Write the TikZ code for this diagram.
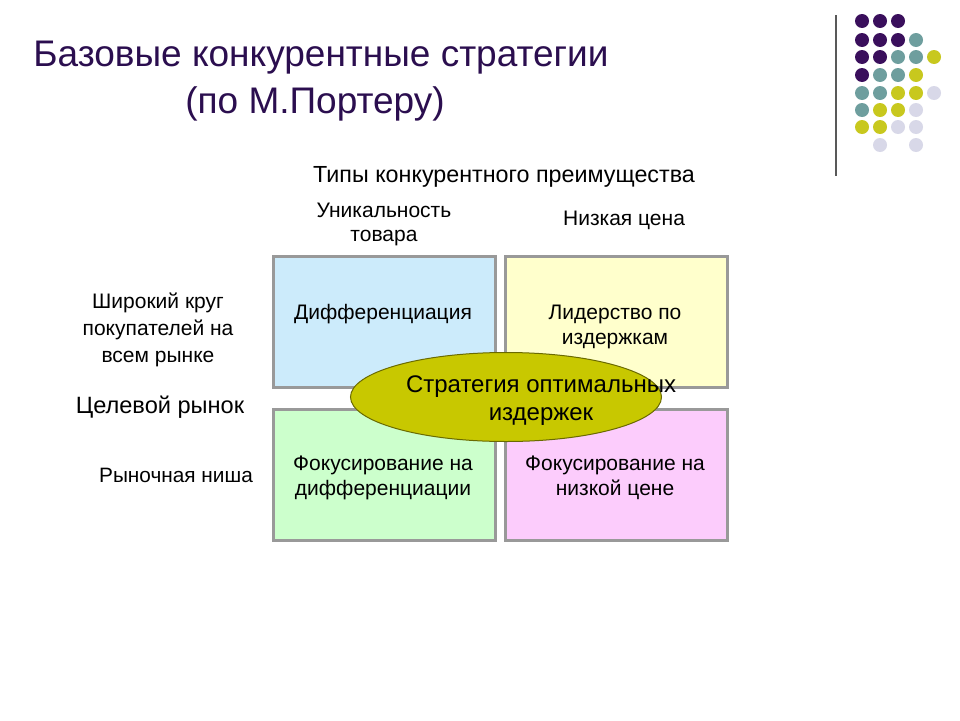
\documentclass[tikz,border=0pt]{standalone}
\usepackage{fontspec}
\setmainfont{Liberation Sans}
\usetikzlibrary{shapes.geometric}
\definecolor{titlecol}{HTML}{2B0E4F}
\definecolor{dpurple}{HTML}{3A0F5C}
\definecolor{dteal}{HTML}{6E9E9E}
\definecolor{dyellow}{HTML}{C8C81E}
\definecolor{dlav}{HTML}{D8D8E8}
\definecolor{boxblue}{HTML}{CCEBFB}
\definecolor{boxyellow}{HTML}{FFFFCC}
\definecolor{boxgreen}{HTML}{CCFFCC}
\definecolor{boxpink}{HTML}{FCCCFC}
\definecolor{ellfill}{HTML}{C8C800}
\definecolor{ellborder}{HTML}{6A6A00}
\tikzset{
  quad/.style={draw=gray!80, line width=3pt, minimum width=222pt, minimum height=131pt, inner sep=0pt},
  lbl/.style={align=center, font=\fontsize{21}{26}\selectfont, inner sep=0pt, anchor=base},
  dot/.style={circle, minimum size=14pt, inner sep=0pt}
}
\begin{document}
\begin{tikzpicture}[x=1pt,y=-1pt]
\useasboundingbox[fill=white] (0,0) rectangle (960,720);
% title
\node[titlecol, font=\fontsize{37}{40}\selectfont, anchor=base, inner sep=0pt] (t1) at (321,66) {Базовые конкурентные стратегии};
\node[titlecol, font=\fontsize{37}{40}\selectfont, anchor=base, inner sep=0pt] (t2) at (315,113) {(по М.Портеру)};
% decoration line
\draw[gray!70!black, line width=2pt] (836,15) -- (836,176);
% dots
\foreach \x/\y/\c in {862/21/dpurple,880/21/dpurple,898/21/dpurple,
  862/40/dpurple,880/40/dpurple,898/40/dpurple,916/40/dteal,
  862/57/dpurple,880/57/dpurple,898/57/dteal,916/57/dteal,934/57/dyellow,
  862/75/dpurple,880/75/dteal,898/75/dteal,916/75/dyellow,
  862/93/dteal,880/93/dteal,898/93/dyellow,916/93/dyellow,934/93/dlav,
  862/110/dteal,880/110/dyellow,898/110/dyellow,916/110/dlav,
  862/127/dyellow,880/127/dyellow,898/127/dlav,916/127/dlav,
  880/145/dlav,916/145/dlav}
  \node[dot, fill=\c] at (\x,\y) {};
% boxes
\node[quad, fill=boxblue] (b1) at (384,322) {};
\node[quad, fill=boxyellow] (b2) at (616,322) {};
\node[quad, fill=boxgreen] (b3) at (384,475) {};
\node[quad, fill=boxpink] (b4) at (616,475) {};
\node[lbl, font=\fontsize{21}{25}\selectfont] (d1) at (383,319) {Дифференциация};
\node[lbl, font=\fontsize{21}{25}\selectfont] (d2) at (615,344) {Лидерство по\\издержкам};
\node[lbl, font=\fontsize{21}{25}\selectfont] (d3) at (383,495) {Фокусирование на\\дифференциации};
\node[lbl, font=\fontsize{21}{25}\selectfont] (d4) at (615,495) {Фокусирование на\\низкой цене};
% ellipse
\node[ellipse, draw=ellborder, line width=1pt, fill=ellfill, minimum width=311pt, minimum height=89pt] (el) at (506,397) {};
\node[lbl, font=\fontsize{24}{27.5}\selectfont] (elt) at (541,420) {Стратегия оптимальных\\издержек};
% labels
\node[lbl, font=\fontsize{23.3}{26}\selectfont] (types) at (504,182) {Типы конкурентного преимущества};
\node[lbl, font=\fontsize{21}{24}\selectfont] (u) at (384,241) {Уникальность\\товара};
\node[lbl] (nc) at (624,225) {Низкая цена};
\node[lbl, font=\fontsize{21}{27}\selectfont] (sk) at (158,362) {Широкий круг\\покупателей на\\всем рынке};
\node[lbl, font=\fontsize{23.6}{26}\selectfont] (cr) at (160,413) {Целевой рынок};
\node[lbl, font=\fontsize{20.8}{26}\selectfont] (rn) at (176,482) {Рыночная ниша};
\end{tikzpicture}
\end{document}
